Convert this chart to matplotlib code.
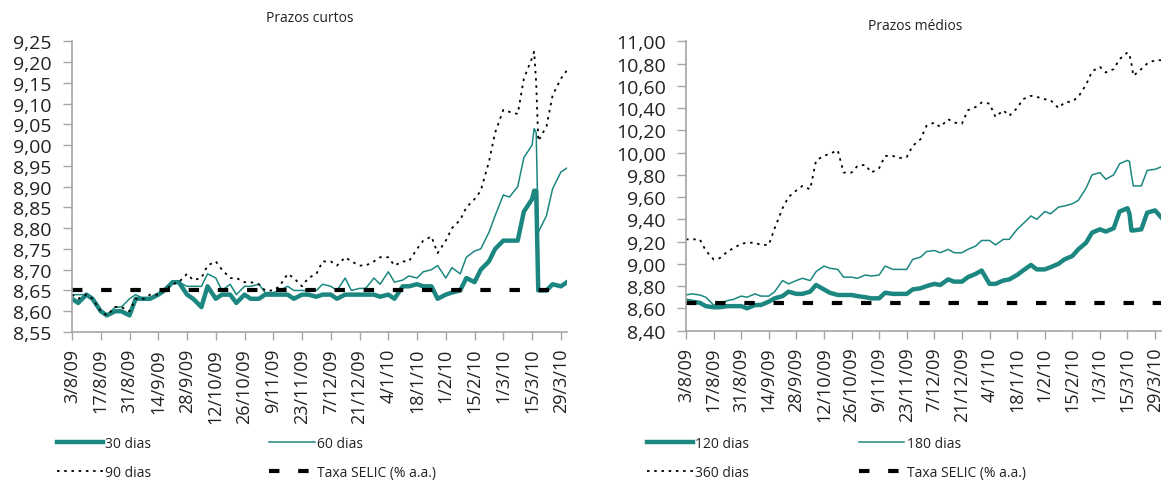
import numpy as np
import pandas as pd
import matplotlib
matplotlib.use("Agg")
import matplotlib.pyplot as plt
from matplotlib.ticker import FuncFormatter

plt.rcParams['font.family'] = ['Open Sans', 'DejaVu Sans']

# observation dates (shared by both panels)
dates = pd.to_datetime([
    "2009-08-03", "2009-08-06", "2009-08-10", "2009-08-13", "2009-08-17", "2009-08-20", "2009-08-24", "2009-08-27",
    "2009-08-31", "2009-09-03", "2009-09-07", "2009-09-10", "2009-09-14", "2009-09-17", "2009-09-21", "2009-09-24",
    "2009-09-28", "2009-10-01", "2009-10-05", "2009-10-08", "2009-10-12", "2009-10-15", "2009-10-19", "2009-10-22",
    "2009-10-26", "2009-10-29", "2009-11-02", "2009-11-05", "2009-11-09", "2009-11-12", "2009-11-16", "2009-11-19",
    "2009-11-23", "2009-11-26", "2009-11-30", "2009-12-03", "2009-12-07", "2009-12-10", "2009-12-14", "2009-12-17",
    "2009-12-21", "2009-12-24", "2009-12-28", "2009-12-31", "2010-01-04", "2010-01-07", "2010-01-11", "2010-01-14",
    "2010-01-18", "2010-01-21", "2010-01-25", "2010-01-28", "2010-02-01", "2010-02-04", "2010-02-08", "2010-02-11",
    "2010-02-15", "2010-02-18", "2010-02-22", "2010-02-25", "2010-03-01", "2010-03-04", "2010-03-08", "2010-03-11",
    "2010-03-15", "2010-03-16", "2010-03-17", "2010-03-18", "2010-03-22", "2010-03-25", "2010-03-29", "2010-04-01",
])

# prazos curtos
dias_30 = [
    8.63, 8.62, 8.64, 8.63, 8.60, 8.59, 8.60, 8.60,
    8.59, 8.63, 8.63, 8.63, 8.64, 8.65, 8.67, 8.67,
    8.64, 8.63, 8.61, 8.66, 8.63, 8.64, 8.64, 8.62,
    8.64, 8.63, 8.63, 8.64, 8.64, 8.64, 8.64, 8.63,
    8.64, 8.64, 8.635, 8.64, 8.64, 8.63, 8.64, 8.64,
    8.64, 8.64, 8.64, 8.635, 8.64, 8.63, 8.66, 8.66,
    8.665, 8.66, 8.66, 8.63, 8.64, 8.645, 8.65, 8.68,
    8.67, 8.70, 8.72, 8.75, 8.77, 8.77, 8.77, 8.84,
    8.87, 8.89, 8.89, 8.65, 8.65, 8.665, 8.66, 8.67,
]
dias_60 = [
    8.64, 8.64, 8.64, 8.63, 8.60, 8.59, 8.61, 8.61,
    8.63, 8.64, 8.63, 8.63, 8.64, 8.655, 8.67, 8.67,
    8.66, 8.66, 8.66, 8.69, 8.68, 8.65, 8.665, 8.64,
    8.66, 8.66, 8.665, 8.645, 8.645, 8.65, 8.66, 8.65,
    8.65, 8.65, 8.65, 8.665, 8.66, 8.65, 8.68, 8.65,
    8.655, 8.655, 8.68, 8.665, 8.695, 8.67, 8.675, 8.685,
    8.68, 8.695, 8.70, 8.71, 8.68, 8.705, 8.69, 8.73,
    8.745, 8.75, 8.79, 8.83, 8.88, 8.875, 8.90, 8.97,
    9.00, 9.04, 9.03, 8.79, 8.83, 8.895, 8.935, 8.945,
]
dias_90 = [
    8.64, 8.63, 8.64, 8.63, 8.60, 8.59, 8.61, 8.61,
    8.60, 8.63, 8.63, 8.64, 8.64, 8.65, 8.665, 8.67,
    8.69, 8.675, 8.68, 8.71, 8.72, 8.70, 8.68, 8.68,
    8.67, 8.67, 8.665, 8.65, 8.65, 8.66, 8.69, 8.68,
    8.66, 8.68, 8.69, 8.72, 8.72, 8.71, 8.73, 8.72,
    8.71, 8.71, 8.72, 8.73, 8.73, 8.71, 8.72, 8.72,
    8.75, 8.77, 8.78, 8.74, 8.77, 8.80, 8.82, 8.85,
    8.87, 8.89, 8.96, 9.03, 9.085, 9.08, 9.075, 9.16,
    9.21, 9.225, 9.15, 9.01, 9.045, 9.12, 9.16, 9.18,
]

# prazos médios
dias_120 = [
    8.67, 8.66, 8.65, 8.62, 8.61, 8.61, 8.62, 8.62,
    8.62, 8.60, 8.63, 8.63, 8.66, 8.69, 8.71, 8.75,
    8.73, 8.73, 8.75, 8.81, 8.77, 8.74, 8.72, 8.72,
    8.72, 8.71, 8.70, 8.69, 8.69, 8.74, 8.73, 8.73,
    8.73, 8.77, 8.78, 8.80, 8.82, 8.81, 8.86, 8.84,
    8.84, 8.88, 8.91, 8.94, 8.82, 8.82, 8.85, 8.86,
    8.90, 8.94, 8.99, 8.95, 8.95, 8.97, 9.00, 9.04,
    9.07, 9.13, 9.19, 9.28, 9.31, 9.29, 9.32, 9.47,
    9.50, 9.45, 9.30, 9.30, 9.31, 9.46, 9.48, 9.42,
]
dias_180 = [
    8.72, 8.73, 8.72, 8.70, 8.63, 8.63, 8.67, 8.68,
    8.71, 8.70, 8.73, 8.71, 8.71, 8.75, 8.85, 8.82,
    8.85, 8.87, 8.85, 8.93, 8.98, 8.96, 8.95, 8.88,
    8.88, 8.87, 8.90, 8.89, 8.90, 8.98, 8.95, 8.95,
    8.95, 9.04, 9.06, 9.11, 9.12, 9.10, 9.13, 9.10,
    9.10, 9.13, 9.16, 9.21, 9.21, 9.17, 9.22, 9.22,
    9.31, 9.36, 9.43, 9.40, 9.47, 9.45, 9.51, 9.52,
    9.54, 9.57, 9.68, 9.80, 9.82, 9.76, 9.80, 9.90,
    9.93, 9.92, 9.80, 9.70, 9.70, 9.84, 9.85, 9.87,
]
dias_360 = [
    9.22, 9.22, 9.22, 9.12, 9.04, 9.05, 9.11, 9.14,
    9.18, 9.19, 9.19, 9.17, 9.17, 9.32, 9.50, 9.60,
    9.66, 9.70, 9.67, 9.93, 9.97, 9.99, 10.02, 9.82,
    9.82, 9.88, 9.89, 9.82, 9.86, 9.97, 9.97, 9.95,
    9.96, 10.06, 10.12, 10.24, 10.27, 10.23, 10.30, 10.27,
    10.26, 10.38, 10.41, 10.45, 10.44, 10.32, 10.38, 10.33,
    10.40, 10.48, 10.51, 10.50, 10.48, 10.47, 10.40, 10.45,
    10.46, 10.50, 10.61, 10.73, 10.77, 10.72, 10.75, 10.84,
    10.90, 10.88, 10.80, 10.69, 10.75, 10.80, 10.83, 10.83,
]

selic = 8.65

tick_dates = pd.date_range("2009-08-03", "2010-03-29", freq="14D")
tick_labels = [f"{d.day}/{d.month}/{d:%y}" for d in tick_dates]

TEAL = "#1b8780"
GRAY = "#a6a6a6"
W, H = 1162, 481

fig = plt.figure(figsize=(W / 100, H / 100), dpi=100)
ax1 = fig.add_axes([72 / W, 1 - 333 / H, 495 / W, 290.7 / H])
ax2 = fig.add_axes([686 / W, 1 - 331.6 / H, 475 / W, 289.3 / H])

comma = FuncFormatter(lambda v, p: f"{v:.2f}".replace(".", ","))


def draw_panel(ax, short, mid, long_, labels, yticks, title, title_xy, leg_xy, colspace):
    h1, = ax.plot(dates, short, color=TEAL, lw=3.2, solid_joinstyle='round')
    h2, = ax.plot(dates, mid, color=TEAL, lw=1.1)
    h3, = ax.plot(dates, long_, color="black", lw=1.3, dashes=(1.4, 2.6))
    h4, = ax.plot([dates[0], dates[-1]], [selic, selic], color="black", lw=3.0, dashes=(2.5, 4.5))

    ax.set_xlim(pd.Timestamp("2009-08-03"), pd.Timestamp("2010-04-01"))
    ax.set_ylim(yticks[0], yticks[-1])
    ax.set_yticks(yticks)
    ax.yaxis.set_major_formatter(comma)
    ax.set_xticks(tick_dates)
    ax.set_xticklabels(tick_labels, rotation=90)

    for s in ["top", "right"]:
        ax.spines[s].set_visible(False)
    for s in ["left", "bottom"]:
        ax.spines[s].set_color(GRAY)
        ax.spines[s].set_linewidth(1.2)
    ax.tick_params(axis="y", length=6.5, width=1, color=GRAY, pad=8,
                   labelsize=14, labelcolor="#222222")
    ax.tick_params(axis="x", length=5.5, width=1, color=GRAY, pad=6,
                   labelsize=13, labelcolor="#222222")

    fig.text(title_xy[0] / W, 1 - title_xy[1] / H, title, ha="center", va="center",
             fontsize=10, color="#222222")

    ax.legend([h1, h3, h2, h4], [labels[0], labels[2], labels[1], "Taxa SELIC (% a.a.)"],
              ncol=2, loc="upper left", bbox_to_anchor=(leg_xy[0] / W, 1 - leg_xy[1] / H),
              bbox_transform=fig.transFigure, frameon=False, fontsize=10,
              handlelength=3.3, handletextpad=0.15, columnspacing=colspace,
              labelspacing=1.0, borderpad=0, borderaxespad=0, labelcolor="#222222")


draw_panel(ax1, dias_30, dias_60, dias_90, ["30 dias", "60 dias", "90 dias"],
           np.round(np.arange(8.55, 9.2501, 0.05), 2), "Prazos curtos", (310, 19),
           (57, 437), 8.5)
draw_panel(ax2, dias_120, dias_180, dias_360, ["120 dias", "180 dias", "360 dias"],
           np.round(np.arange(8.40, 11.001, 0.20), 2), "Prazos médios", (915, 26),
           (647, 437), 7.9)

fig.savefig("out.png", dpi=100)
